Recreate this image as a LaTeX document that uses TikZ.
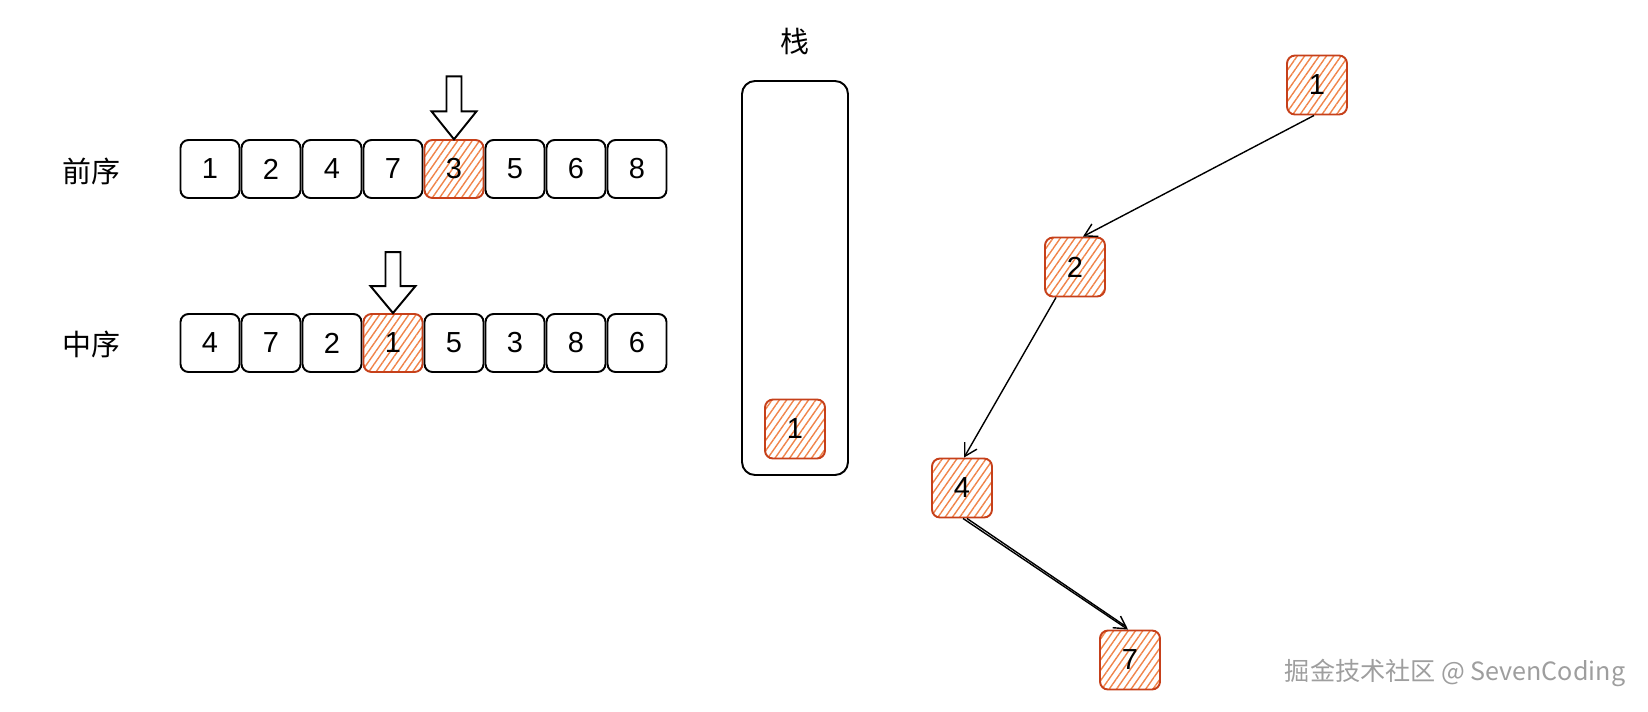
\documentclass[tikz,border=0pt]{standalone}
\usepackage{fontspec}
\setmainfont{Liberation Sans}
\newfontfamily\cjk{Noto Sans CJK SC}
\usetikzlibrary{patterns.meta,arrows.meta}
\definecolor{hlline}{HTML}{C6401A}
\definecolor{hlhatch}{HTML}{F0844A}
\definecolor{wm}{HTML}{9E9E9E}
\begin{document}
\begin{tikzpicture}[x=0.02cm,y=-0.02cm,
  box/.style={draw=black, line width=1.1pt, rounded corners=0.16cm, minimum width=1.18cm, minimum height=1.16cm, inner sep=0pt, font=\fontsize{16.5}{19}\selectfont},
  hl/.style={box, draw=hlline, pattern={Lines[angle=55,distance=3.4pt,line width=0.8pt]}, pattern color=hlhatch},
  tnode/.style={hl, minimum width=1.2cm, minimum height=1.18cm},
  lbl/.style={font=\cjk\fontsize{16.5}{20}\selectfont},
  edge/.style={line width=0.8pt, -{Straight Barb[length=7pt,width=8pt]}},
  blockarrow/.style={draw, line width=1.1pt, fill=white, line join=miter},
  stackbox/.style={draw, line width=1.1pt, rounded corners=0.26cm}]
\useasboundingbox (0,0) rectangle (1648,711);

% labels
\node[lbl] (lpre) at (91,171) {前序};
\node[lbl] (lin) at (91,344) {中序};
\node[lbl] (lstack) at (795,41) {栈};

% preorder array
\node[box] (p1) at (210,169) {1};
\node[box] (p2) at (271,169) {2};
\node[box] (p3) at (332,169) {4};
\node[box] (p4) at (393,169) {7};
\node[hl]  (p5) at (454,169) {3};
\node[box] (p6) at (515,169) {5};
\node[box] (p7) at (576,169) {6};
\node[box] (p8) at (637,169) {8};

% inorder array
\node[box] (q1) at (210,343) {4};
\node[box] (q2) at (271,343) {7};
\node[box] (q3) at (332,343) {2};
\node[hl]  (q4) at (393,343) {1};
\node[box] (q5) at (454,343) {5};
\node[box] (q6) at (515,343) {3};
\node[box] (q7) at (576,343) {8};
\node[box] (q8) at (637,343) {6};

% block arrows
\draw[blockarrow] (p5.north) -- ++(22.5,-28) -- ++(-15,0) -- ++(0,-35) -- ++(-15,0) -- ++(0,35) -- ++(-15,0) -- cycle;
\draw[blockarrow] (q4.north) -- ++(22.5,-27) -- ++(-15,0) -- ++(0,-34) -- ++(-15,0) -- ++(0,34) -- ++(-15,0) -- cycle;

% stack
\draw[stackbox] (742,81) rectangle (848,475);
\node[tnode] (s1) at (795,429) {1};

% tree
\node[tnode] (t1) at (1317,85) {1};
\node[tnode] (t2) at (1075,267) {2};
\node[tnode] (t4) at (962,488) {4};
\node[tnode] (t7) at (1130,660) {7};

\draw[edge] ([xshift=-0.06cm]t1.south) -- ([xshift=0.16cm]t2.north);
\draw[edge] ([xshift=-0.38cm]t2.south) -- ([xshift=0.04cm]t4.north);
\draw[edge] ([xshift=0.02cm]t4.south) -- ([xshift=-0.04cm]t7.north);
\draw[line width=0.8pt] ([xshift=0.1cm]t4.south) -- ([xshift=-0.08cm,yshift=0.06cm]t7.north);

% watermark
\node[font=\cjk\fontsize{14.3}{16}\selectfont, text=wm] (wmark) at (1455,673) {掘金技术社区 @ SevenCoding};
\end{tikzpicture}
\end{document}
